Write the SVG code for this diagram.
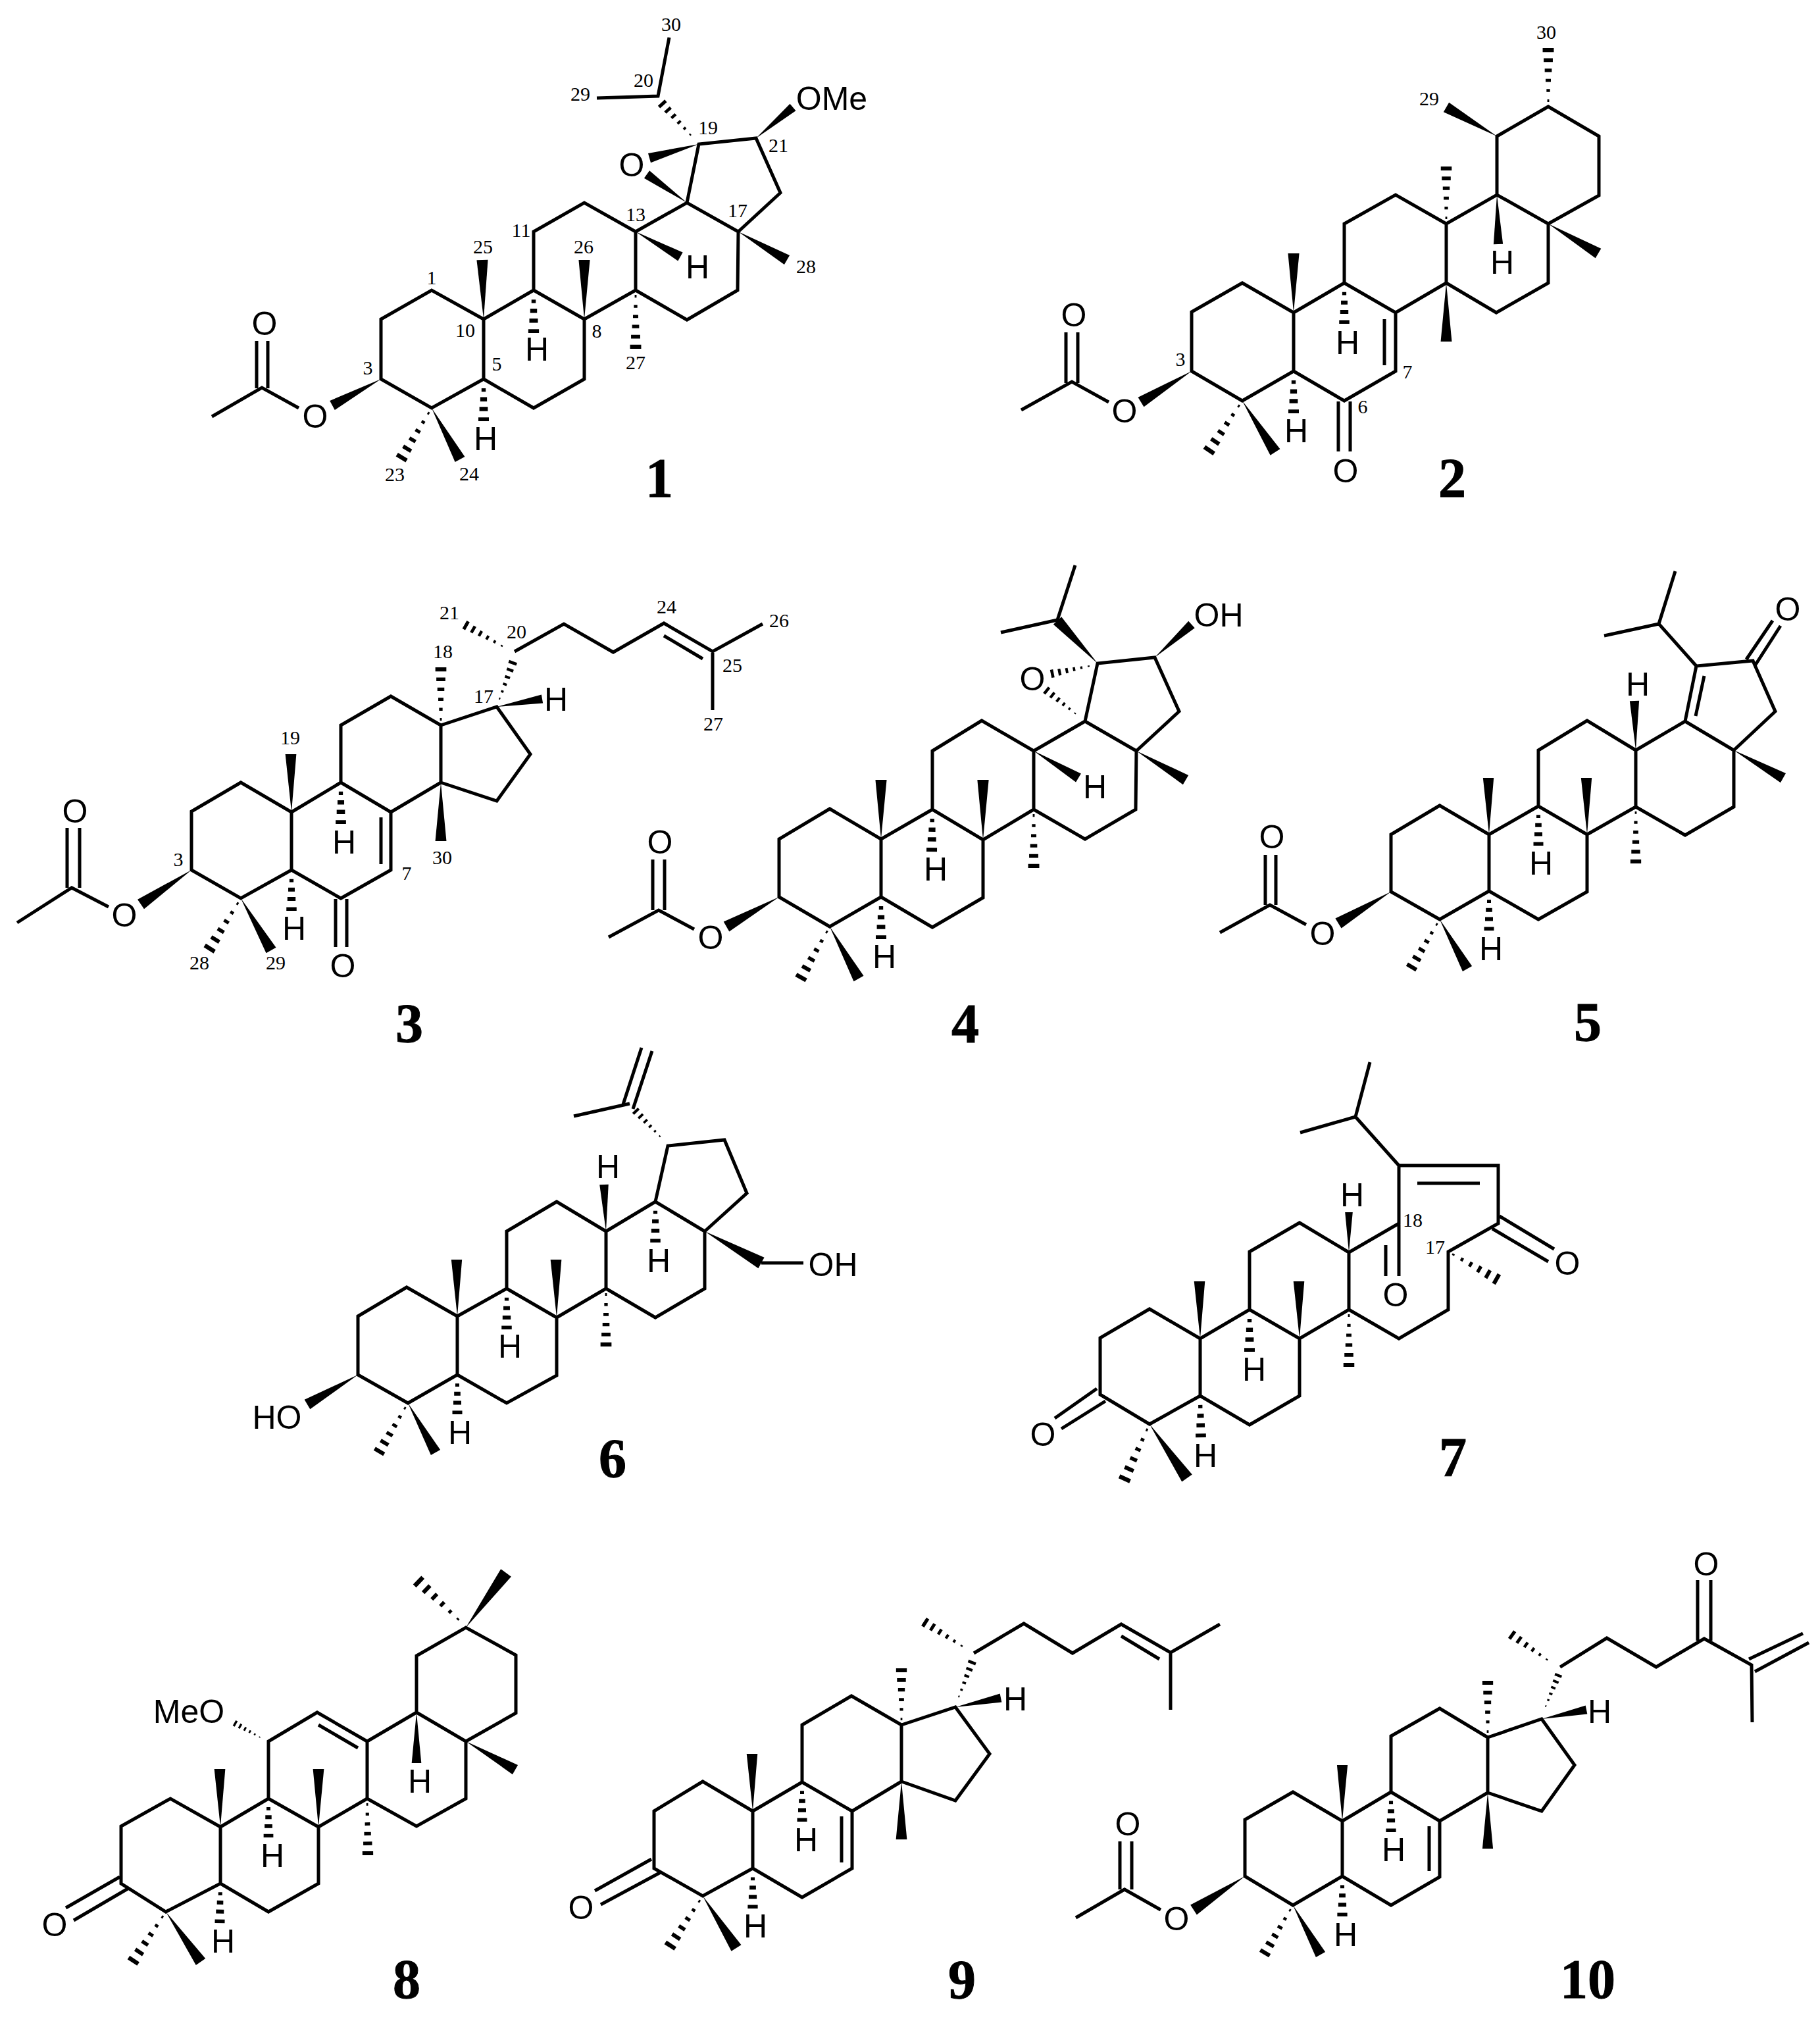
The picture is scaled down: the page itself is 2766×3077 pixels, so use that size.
<svg xmlns="http://www.w3.org/2000/svg" width="2766" height="3077" viewBox="0 0 2766 3077">
<style>
.b{fill:none;stroke:#000;stroke-width:5;stroke-linejoin:miter;stroke-linecap:butt}
.a{font-family:"Liberation Sans",Arial,sans-serif;font-size:50px;text-anchor:middle;fill:#000}
.n{font-family:"Liberation Serif","Times New Roman",serif;font-size:30px;text-anchor:middle;fill:#000}
.c{font-family:"Liberation Serif","Times New Roman",serif;font-size:84px;font-weight:bold;text-anchor:middle;fill:#000;stroke:#000;stroke-width:1}
</style>
<defs>
<path id="w" d="M0 0L1 -.095V.095Z"/>
<path id="h" d="M.08 -.016H.125V.016H.08ZM.25 -.03H.30V.03H.25ZM.42 -.045H.475V.045H.42ZM.59 -.06H.65V.06H.59ZM.76 -.078H.825V.078H.76ZM.93 -.095H1V.095H.93Z"/>
<path id="s" d="M.22 -.05H.30V.05H.22ZM.43 -.08H.53V.08H.43ZM.66 -.1H.76V.1H.66ZM.91 -.125H1V.125H.91Z"/>
</defs>
<rect width="2766" height="3077" fill="#fff"/>

<g id="compound-1">
<g id="bonds-1">
<path class="b" d="M579 576L579 485L656 441L735 485L735 576L656 620ZM735 485L811 441L888 485L888 576L811 620L735 576M811 441L811 352L888 308L966 352L966 441L888 485M966 441L1044 486L1121 441L1122 352L1044 308L966 352M1122 352L1186 293L1149 210L1062 219L1044 308M907 149L1000 146L1017 57M322 633L398 589L454 620M390 590V518M407 590V518"/>
<use href="#w" transform="matrix(-74 40 -40 -74 579 576)"/>
<use href="#h" transform="matrix(-47 78 -78 -47 656 620)"/>
<use href="#w" transform="matrix(43 78 -78 43 656 620)"/>
<use href="#s" transform="matrix(0 64 -64 0 735 576)"/>
<use href="#s" transform="matrix(0 65 -65 0 811 441)"/>
<use href="#w" transform="matrix(-2 -90 90 -2 735 485)"/>
<use href="#w" transform="matrix(0 -90 90 0 888 485)"/>
<use href="#h" transform="matrix(0 89 -89 0 966 441)"/>
<use href="#w" transform="matrix(68 38 -38 68 966 352)"/>
<use href="#w" transform="matrix(74 43 -43 74 1122 352)"/>
<use href="#h" transform="matrix(-49 -54 54 -49 1054 210)"/>
<use href="#w" transform="matrix(56 -47 47 56 1149 210)"/>
<use href="#w" transform="matrix(-75 21 -21 -75 1062 219)"/>
<use href="#w" transform="matrix(-61 -43 43 -61 1044 308)"/>
</g>
<text class="a" x="479" y="650">O</text><text class="a" x="402" y="509">O</text><text class="a" x="960" y="268">O</text>
<text class="a" x="738" y="684">H</text><text class="a" x="816" y="548">H</text><text class="a" x="1060" y="423">H</text><text class="a" x="1264" y="167">OMe</text>
<text class="n" x="1020" y="47">30</text><text class="n" x="978" y="132">20</text><text class="n" x="882" y="153">29</text><text class="n" x="1076" y="204">19</text><text class="n" x="1183" y="231">21</text><text class="n" x="966" y="336">13</text><text class="n" x="1121" y="330">17</text><text class="n" x="792" y="360">11</text><text class="n" x="734" y="385">25</text><text class="n" x="887" y="385">26</text><text class="n" x="1225" y="415">28</text><text class="n" x="656" y="432">1</text><text class="n" x="707" y="512">10</text><text class="n" x="907" y="513">8</text><text class="n" x="755" y="563">5</text><text class="n" x="966" y="561">27</text><text class="n" x="559" y="569">3</text><text class="n" x="600" y="731">23</text><text class="n" x="713" y="730">24</text>
<text class="c" x="1002" y="755">1</text>
</g>

<g id="compound-2">
<g id="bonds-2">
<path class="b" d="M1811 564L1811 474L1888 430L1966 475L1966 564L1888 609ZM1966 475L2043 430L2121 475L2121 564L2043 609L1966 564M2043 430L2043 340L2121 296L2198 340L2198 430L2121 475M2198 430L2274 475L2353 430L2353 340L2275 296L2198 340M2275 296L2275 207L2353 162L2430 207L2430 297L2353 340M2104 485V555M2034 610V686M2052 610V686M1552 623L1629 580L1685 611M1620 582V505M1638 582V505"/>
<use href="#w" transform="matrix(-77 -44 44 -77 2275 207)"/>
<use href="#h" transform="matrix(0 -89 89 0 2353 162)"/>
<use href="#h" transform="matrix(0 -87 87 0 2198 340)"/>
<use href="#w" transform="matrix(2 75 -75 2 2275 296)"/>
<use href="#w" transform="matrix(76 45 -45 76 2353 340)"/>
<use href="#w" transform="matrix(0 89 -89 0 2198 430)"/>
<use href="#w" transform="matrix(0 -90 90 0 1966 475)"/>
<use href="#s" transform="matrix(0 62 -62 0 2043 430)"/>
<use href="#s" transform="matrix(0 64 -64 0 1966 564)"/>
<use href="#h" transform="matrix(-52 78 -78 -52 1888 609)"/>
<use href="#w" transform="matrix(50 78 -78 50 1888 609)"/>
<use href="#w" transform="matrix(-77 47 -47 -77 1811 564)"/>
</g>
<text class="a" x="1709" y="642">O</text><text class="a" x="1632" y="496">O</text><text class="a" x="2045" y="733">O</text>
<text class="a" x="2283" y="416">H</text><text class="a" x="2048" y="538">H</text><text class="a" x="1970" y="672">H</text>
<text class="n" x="2350" y="59">30</text><text class="n" x="2172" y="160">29</text><text class="n" x="1794" y="556">3</text><text class="n" x="2139" y="575">7</text><text class="n" x="2071" y="628">6</text>
<text class="c" x="2207" y="755">2</text>
</g>

<g id="compound-3">
<g id="bonds-3">
<path class="b" d="M291 1322L291 1233L366 1189L443 1234L443 1322L366 1365ZM443 1234L518 1189L594 1234L594 1322L518 1365L443 1322M518 1189L518 1102L594 1058L670 1102L670 1189L594 1234M670 1189L755 1217L806 1146L755 1074L670 1102M579 1242V1313M510 1366V1439M527 1366V1439M782 990L857 948L932 991L1009 947L1083 990L1159 948M1083 990V1079M1009 966L1068 1001M26 1402L109 1349L165 1378M102 1349V1258M121 1349V1258"/>
<use href="#w" transform="matrix(-77 52 -52 -77 291 1322)"/>
<use href="#h" transform="matrix(-49 79 -79 -49 366 1365)"/>
<use href="#w" transform="matrix(46 79 -79 46 366 1365)"/>
<use href="#s" transform="matrix(0 62 -62 0 443 1322)"/>
<use href="#s" transform="matrix(0 63 -63 0 518 1189)"/>
<use href="#w" transform="matrix(-1 -88 88 -1 443 1234)"/>
<use href="#w" transform="matrix(0 89 -89 0 670 1189)"/>
<use href="#h" transform="matrix(0 -88 88 0 670 1102)"/>
<use href="#w" transform="matrix(69 -12 12 69 755 1074)"/>
<use href="#h" transform="matrix(23 -63 63 23 757 1068)"/>
<use href="#h" transform="matrix(-63 -36 36 -63 769 985)"/>
</g>
<text class="a" x="189" y="1408">O</text><text class="a" x="114" y="1250">O</text><text class="a" x="521" y="1485">O</text>
<text class="a" x="845" y="1080">H</text><text class="a" x="523" y="1297">H</text><text class="a" x="447" y="1428">H</text>
<text class="n" x="441" y="1131">19</text><text class="n" x="673" y="1000">18</text><text class="n" x="683" y="941">21</text><text class="n" x="785" y="970">20</text><text class="n" x="735" y="1068">17</text><text class="n" x="672" y="1313">30</text><text class="n" x="303" y="1473">28</text><text class="n" x="419" y="1473">29</text><text class="n" x="271" y="1316">3</text><text class="n" x="618" y="1337">7</text><text class="n" x="1013" y="932">24</text><text class="n" x="1184" y="953">26</text><text class="n" x="1113" y="1021">25</text><text class="n" x="1084" y="1110">27</text>
<text class="c" x="622" y="1584">3</text>
</g>

<g id="compound-4">
<g id="bonds-4">
<path class="b" d="M1184 1363L1184 1275L1261 1229L1339 1275L1339 1363L1261 1408ZM1339 1275L1417 1230L1494 1276L1494 1364L1417 1409L1339 1363M1417 1230L1417 1141L1492 1095L1571 1141L1571 1230L1494 1276M1571 1230L1649 1275L1726 1230L1727 1141L1649 1096L1571 1141M1727 1141L1792 1081L1755 999L1668 1008L1649 1096M1634 859L1607 942L1521 961M925 1424L1001 1383L1055 1412M992 1383V1306M1010 1383V1306"/>
<use href="#w" transform="matrix(-80 45 -45 -80 1184 1363)"/>
<use href="#h" transform="matrix(-45 80 -80 -45 1261 1408)"/>
<use href="#w" transform="matrix(44 79 -79 44 1261 1408)"/>
<use href="#s" transform="matrix(0 64 -64 0 1339 1363)"/>
<use href="#s" transform="matrix(-1 64 -64 -1 1417 1230)"/>
<use href="#w" transform="matrix(0 -90 90 0 1339 1275)"/>
<use href="#w" transform="matrix(0 -91 91 0 1494 1276)"/>
<use href="#h" transform="matrix(0 89 -89 0 1571 1230)"/>
<use href="#w" transform="matrix(68 41 -41 68 1571 1141)"/>
<use href="#w" transform="matrix(75 44 -44 75 1727 1141)"/>
<use href="#w" transform="matrix(-61 -65 65 -61 1668 1008)"/>
<use href="#w" transform="matrix(56 -50 50 56 1755 999)"/>
<use href="#h" transform="matrix(-64 13 -13 -64 1661 1011)"/>
<use href="#h" transform="matrix(-50 -40 40 -50 1639 1088)"/>
</g>
<text class="a" x="1080" y="1442">O</text><text class="a" x="1003" y="1297">O</text><text class="a" x="1569" y="1049">O</text><text class="a" x="1852" y="952">OH</text>
<text class="a" x="1664" y="1213">H</text><text class="a" x="1422" y="1338">H</text><text class="a" x="1344" y="1471">H</text>
<text class="c" x="1467" y="1584">4</text>
</g>

<g id="compound-5">
<g id="bonds-5">
<path class="b" d="M2114 1355L2114 1268L2188 1224L2263 1268L2263 1354L2188 1397ZM2263 1268L2338 1225L2412 1268L2412 1355L2338 1397L2263 1354M2338 1225L2338 1140L2412 1095L2486 1140L2486 1226L2412 1268M2486 1226L2561 1269L2635 1226L2635 1140L2561 1096L2486 1140M2635 1140L2698 1081L2664 1004L2578 1012L2561 1096M2590 1027L2577 1088M2578 1012L2521 948L2546 868M2521 948L2438 966M2654 1002L2694 943M2668 1010L2706 951M1854 1417L1930 1375L1985 1405M1923 1375V1299M1939 1375V1299"/>
<use href="#w" transform="matrix(-80 48 -48 -80 2114 1355)"/>
<use href="#h" transform="matrix(-44 75 -75 -44 2188 1397)"/>
<use href="#w" transform="matrix(42 75 -75 42 2188 1397)"/>
<use href="#s" transform="matrix(0 60 -60 0 2263 1354)"/>
<use href="#s" transform="matrix(0 60 -60 0 2338 1225)"/>
<use href="#w" transform="matrix(-1 -86 86 -1 2263 1268)"/>
<use href="#w" transform="matrix(-1 -86 86 -1 2412 1268)"/>
<use href="#h" transform="matrix(0 86 -86 0 2486 1226)"/>
<use href="#w" transform="matrix(-2 -75 75 -2 2486 1140)"/>
<use href="#w" transform="matrix(75 42 -42 75 2635 1140)"/>
</g>
<text class="a" x="2010" y="1436">O</text><text class="a" x="1933" y="1289">O</text><text class="a" x="2717" y="943">O</text>
<text class="a" x="2489" y="1057">H</text><text class="a" x="2342" y="1329">H</text><text class="a" x="2266" y="1459">H</text>
<text class="c" x="2413" y="1582">5</text>
</g>

<g id="compound-6">
<g id="bonds-6">
<path class="b" d="M544 2089L544 2000L618 1956L695 2000L695 2089L620 2132ZM695 2000L770 1958L846 2002L846 2090L770 2132L695 2089M770 1958L770 1871L846 1826L921 1871L921 1958L846 2002M921 1958L996 2002L1071 1958L1071 1871L996 1826L921 1871M1071 1871L1135 1813L1101 1732L1015 1741L996 1826M872 1696L957 1677M947 1678L975 1592M962 1685L991 1597M1157 1919H1221"/>
<use href="#w" transform="matrix(-77 45 -45 -77 544 2089)"/>
<use href="#h" transform="matrix(-45 76 -76 -45 620 2132)"/>
<use href="#w" transform="matrix(42 75 -75 42 620 2132)"/>
<use href="#s" transform="matrix(0 60 -60 0 695 2089)"/>
<use href="#s" transform="matrix(0 62 -62 0 770 1958)"/>
<use href="#w" transform="matrix(-1 -86 86 -1 695 2000)"/>
<use href="#w" transform="matrix(-1 -88 88 -1 846 2002)"/>
<use href="#h" transform="matrix(0 88 -88 0 921 1958)"/>
<use href="#w" transform="matrix(-3 -71 71 -3 921 1871)"/>
<use href="#s" transform="matrix(0 62 -62 0 996 1826)"/>
<use href="#w" transform="matrix(86 48 -48 86 1071 1871)"/>
<use href="#h" transform="matrix(-42 -44 44 -42 1007 1731)"/>
</g>
<text class="a" x="421" y="2171">HO</text><text class="a" x="1266" y="1939">OH</text>
<text class="a" x="924" y="1790">H</text><text class="a" x="1001" y="1933">H</text><text class="a" x="775" y="2063">H</text><text class="a" x="699" y="2194">H</text>
<text class="c" x="931" y="2245">6</text>
</g>

<g id="compound-7">
<g id="bonds-7">
<path class="b" d="M1672 2119L1672 2033L1747 1989L1824 2034L1824 2121L1747 2164ZM1824 2034L1899 1990L1975 2034L1975 2121L1899 2165L1824 2121M1899 1990L1899 1902L1975 1858L2050 1903L2050 1990L1975 2034M2050 1990L2126 2034L2201 1990L2201 1902L2277 1859L2277 1771L2126 1771L2126 1859L2050 1903M2126 1771L2060 1697L2082 1614M2060 1697L1976 1721M2154 1798H2249M2126 1859V1939M2106 1892V1939M2279 1848L2362 1898M2268 1867L2353 1917M1667 2110L1603 2155M1680 2129L1613 2171"/>
<use href="#h" transform="matrix(-39 86 -86 -39 1747 2164)"/>
<use href="#w" transform="matrix(57 82 -82 57 1747 2164)"/>
<use href="#s" transform="matrix(1 63 -63 1 1824 2121)"/>
<use href="#s" transform="matrix(0 64 -64 0 1899 1990)"/>
<use href="#w" transform="matrix(-1 -87 87 -1 1824 2034)"/>
<use href="#w" transform="matrix(-1 -87 87 -1 1975 2034)"/>
<use href="#h" transform="matrix(0 87 -87 0 2050 1990)"/>
<use href="#w" transform="matrix(0 -61 61 0 2050 1903)"/>
<use href="#h" transform="matrix(76 43 -43 76 2201 1902)"/>
</g>
<text class="a" x="2121" y="1985">O</text><text class="a" x="2382" y="1937">O</text><text class="a" x="1585" y="2197">O</text>
<text class="a" x="2055" y="1833">H</text><text class="a" x="1906" y="2098">H</text><text class="a" x="1832" y="2229">H</text>
<text class="n" x="2147" y="1864">18</text><text class="n" x="2181" y="1905">17</text>
<text class="c" x="2208" y="2243">7</text>
</g>

<g id="compound-8">
<g id="bonds-8">
<path class="b" d="M184 2862L184 2775L259 2733L335 2776L335 2862L252 2905ZM335 2776L408 2733L484 2776L484 2862L408 2905L335 2862M408 2733L408 2646L482 2602L558 2646L558 2733L484 2776M558 2733L633 2775L708 2733L708 2646L633 2602L558 2646M633 2602L633 2516L708 2473L784 2515L784 2603L708 2646M484 2621L544 2656M182 2852L100 2899M194 2870L112 2918"/>
<use href="#h" transform="matrix(-51 77 -77 -51 252 2905)"/>
<use href="#w" transform="matrix(53 76 -76 53 252 2905)"/>
<use href="#s" transform="matrix(-1 60 -60 -1 335 2862)"/>
<use href="#s" transform="matrix(0 59 -59 0 408 2733)"/>
<use href="#w" transform="matrix(-1 -88 88 -1 335 2776)"/>
<use href="#w" transform="matrix(0 -88 88 0 484 2776)"/>
<use href="#h" transform="matrix(1 86 -86 1 558 2733)"/>
<use href="#w" transform="matrix(0 77 -77 0 633 2602)"/>
<use href="#w" transform="matrix(75 43 -43 75 708 2646)"/>
<use href="#h" transform="matrix(-69 -66 66 -69 703 2467)"/>
<use href="#w" transform="matrix(61 -83 83 61 708 2473)"/>
<use href="#h" transform="matrix(-43 -24 24 -43 399 2642)"/>
</g>
<text class="a" x="83" y="2942">O</text><text class="a" x="287" y="2618">MeO</text>
<text class="a" x="638" y="2724">H</text><text class="a" x="414" y="2837">H</text><text class="a" x="339" y="2967">H</text>
<text class="c" x="618" y="3036">8</text>
</g>

<g id="compound-9">
<g id="bonds-9">
<path class="b" d="M994 2839L994 2752L1068 2707L1144 2752L1144 2839L1068 2881ZM1144 2752L1219 2708L1295 2752L1295 2839L1219 2883L1144 2839M1219 2708L1219 2621L1294 2577L1370 2621L1370 2707L1295 2752M1370 2707L1452 2736L1504 2665L1452 2594L1370 2621M1279 2760V2830M1480 2512L1556 2467L1630 2512L1704 2468L1779 2511L1854 2468M1779 2511V2598M1704 2486L1762 2521M990 2825L904 2873M1004 2845L913 2894"/>
<use href="#h" transform="matrix(-51 78 -78 -51 1068 2881)"/>
<use href="#w" transform="matrix(51 79 -79 51 1068 2881)"/>
<use href="#s" transform="matrix(0 61 -61 0 1144 2839)"/>
<use href="#s" transform="matrix(0 60 -60 0 1219 2708)"/>
<use href="#w" transform="matrix(-1 -87 87 -1 1144 2752)"/>
<use href="#w" transform="matrix(0 88 -88 0 1370 2707)"/>
<use href="#h" transform="matrix(0 -86 86 0 1370 2621)"/>
<use href="#w" transform="matrix(69 -14 14 69 1452 2594)"/>
<use href="#h" transform="matrix(23 -60 60 23 1455 2584)"/>
<use href="#h" transform="matrix(-64 -41 41 -64 1468 2505)"/>
</g>
<text class="a" x="883" y="2916">O</text>
<text class="a" x="1543" y="2599">H</text><text class="a" x="1225" y="2813">H</text><text class="a" x="1148" y="2944">H</text>
<text class="c" x="1462" y="3037">9</text>
</g>

<g id="compound-10">
<g id="bonds-10">
<path class="b" d="M1892 2851L1892 2765L1965 2723L2040 2767L2040 2851L1965 2895ZM2040 2767L2114 2723L2188 2767L2188 2852L2114 2895L2040 2851M2114 2723L2114 2638L2188 2596L2261 2640L2261 2724L2188 2767M2261 2724L2343 2752L2393 2682L2343 2612L2261 2640M2172 2775V2843M2371 2533L2442 2489L2517 2533L2590 2490L2662 2530L2663 2617M2658 2521L2740 2482M2667 2540L2749 2496M2580 2493V2401M2600 2493V2401M1635 2914L1709 2871L1764 2902M1702 2871V2798M1720 2871V2798"/>
<use href="#w" transform="matrix(-78 51 -51 -78 1892 2851)"/>
<use href="#h" transform="matrix(-44 75 -75 -44 1965 2895)"/>
<use href="#w" transform="matrix(42 75 -75 42 1965 2895)"/>
<use href="#s" transform="matrix(0 61 -61 0 2040 2851)"/>
<use href="#s" transform="matrix(0 61 -61 0 2114 2723)"/>
<use href="#w" transform="matrix(0 -85 85 0 2040 2767)"/>
<use href="#w" transform="matrix(0 85 -85 0 2261 2724)"/>
<use href="#h" transform="matrix(0 -86 86 0 2261 2640)"/>
<use href="#w" transform="matrix(68 -14 14 68 2343 2612)"/>
<use href="#h" transform="matrix(22 -54 54 22 2347 2598)"/>
<use href="#h" transform="matrix(-61 -43 43 -61 2357 2526)"/>
</g>
<text class="a" x="1788" y="2933">O</text><text class="a" x="1714" y="2789">O</text><text class="a" x="2593" y="2394">O</text>
<text class="a" x="2431" y="2618">H</text><text class="a" x="2118" y="2828">H</text><text class="a" x="2045" y="2957">H</text>
<text class="c" x="2413" y="3036">10</text>
</g>
</svg>
